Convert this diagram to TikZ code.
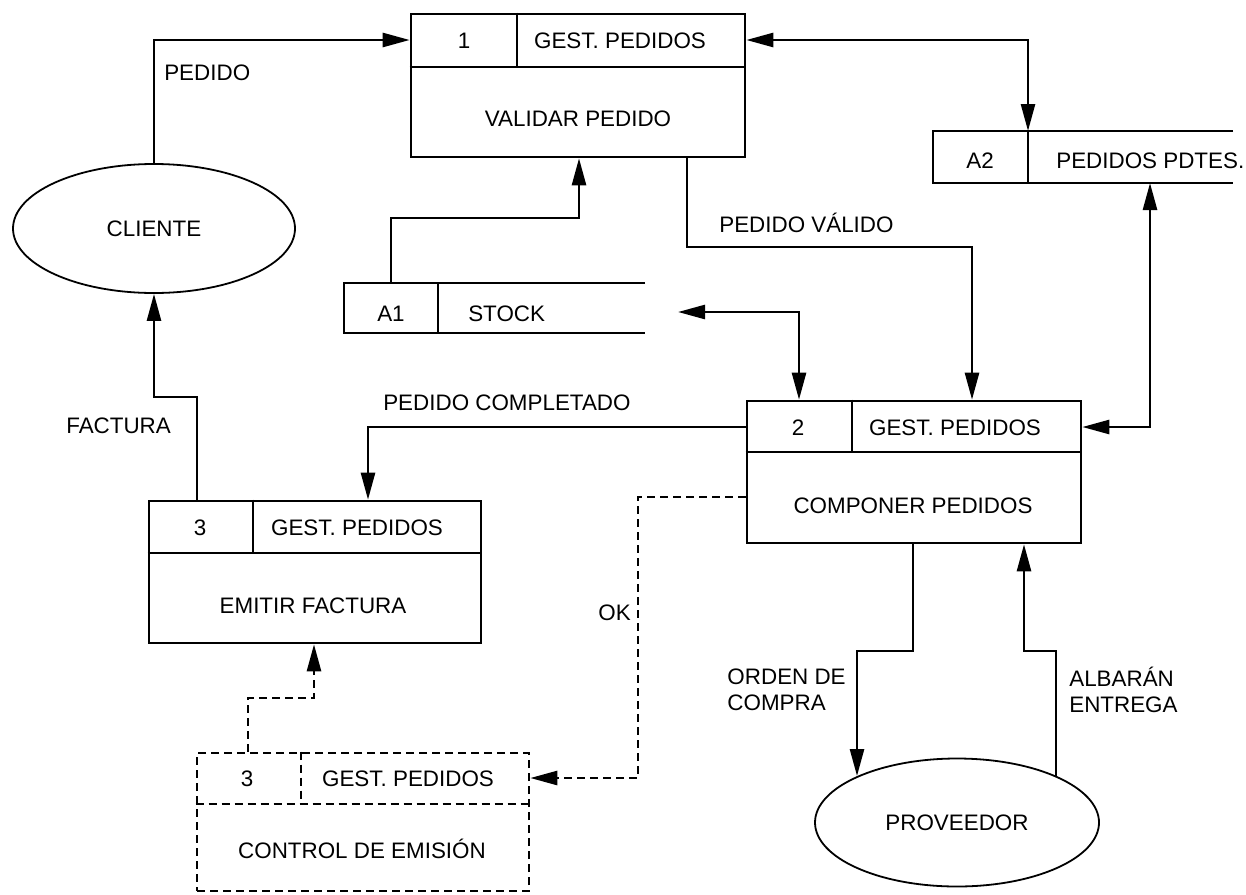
\documentclass[tikz,border=0pt]{standalone}
\usepackage{fontspec}
\setmainfont{Liberation Sans}
\usetikzlibrary{arrows.meta,shapes.geometric}

\begin{document}
\begin{tikzpicture}[x=0.5pt,y=-0.5pt,
  line width=1.3pt,
  every node/.style={font=\fontsize{11.2}{13}\selectfont},
  txt/.style={inner sep=0pt, text height=8pt, text depth=0pt},
  lbl/.style={inner sep=0pt, align=left},
  proc/.style={draw, rectangle, inner sep=0pt},
  ext/.style={draw, ellipse, inner sep=0pt, line width=0.9pt},
  store/.style={inner sep=0pt, outer sep=0pt},
  dsh/.style={dash pattern=on 4pt off 2.5pt},
  flow/.style={-{Triangle[length=13.5pt,width=7pt]}},
  both/.style={{Triangle[length=13.5pt,width=7pt]}-{Triangle[length=13.5pt,width=7pt]}}]

\useasboundingbox (0,0) rectangle (1246,894);

% external entities
\node[ext, minimum width=141pt, minimum height=64.5pt] (cliente) at (154,228.5) {CLIENTE};
\node[ext, minimum width=142pt, minimum height=64pt] (prov) at (957,822.5) {PROVEEDOR};

% process 1
\node[proc, minimum width=167pt, minimum height=71.5pt] (p1) at (578,85.5) {};
\draw (p1.west |- 0,67) -- (p1.east |- 0,67);
\draw (p1.north -| 517,0) -- (517,67);
\node[txt] (p1n) at (464,40) {1};
\node[txt] (p1g) at (620,40) {GEST. PEDIDOS};
\node[txt] (p1t) at (578,118) {VALIDAR PEDIDO};

% process 2
\node[proc, minimum width=167pt, minimum height=71pt] (p2) at (914,472) {};
\draw (p2.west |- 0,452) -- (p2.east |- 0,452);
\draw (p2.north -| 852,0) -- (852,452);
\node[txt] (p2n) at (798,427) {2};
\node[txt] (p2g) at (955,427) {GEST. PEDIDOS};
\node[txt] (p2t) at (913,505) {COMPONER PEDIDOS};

% process 3
\node[proc, minimum width=166pt, minimum height=71pt] (p3) at (315,572) {};
\draw (p3.west |- 0,553) -- (p3.east |- 0,553);
\draw (p3.north -| 253,0) -- (253,553);
\node[txt] (p3n) at (200,527) {3};
\node[txt] (p3g) at (357,527) {GEST. PEDIDOS};
\node[txt] (p3t) at (313,605) {EMITIR FACTURA};

% control process (dashed)
\node[proc, dsh, minimum width=166pt, minimum height=69pt] (p4) at (363,822) {};
\draw[dsh] (p4.west |- 0,804) -- (p4.east |- 0,804);
\draw[dsh] (p4.north -| 301,0) -- (301,804);
\node[txt] (p4n) at (247,778) {3};
\node[txt] (p4g) at (408,778) {GEST. PEDIDOS};
\node[txt] (p4t) at (362,850) {CONTROL DE EMISIÓN};

% data stores
\node[store, minimum width=150.5pt, minimum height=25pt] (a1) at (494.5,308) {};
\draw (a1.north east) -- (a1.north west) -- (a1.south west) -- (a1.south east);
\draw (a1.north -| 438,0) -- (a1.south -| 438,0);
\node[txt] (a1n) at (391,313) {A1};
\node[txt, anchor=west] (a1t) at (467,313) {STOCK};

\node[store, minimum width=150pt, minimum height=26pt] (a2) at (1083,157) {};
\draw (a2.north east) -- (a2.north west) -- (a2.south west) -- (a2.south east);
\draw (a2.north -| 1028,0) -- (a2.south -| 1028,0);
\node[txt] (a2n) at (980,160) {A2};
\node[txt, anchor=west] (a2t) at (1055,160) {PEDIDOS PDTES.};

% data flows
\coordinate (stockend) at (678,312);

\draw[flow] (cliente.north) |- (p1.west |- 0,40);
\draw[both] (p1.east |- 0,40) -| (a2.north -| 1028,0);
\draw[flow] (a1.north -| 391,0) -- (391,218) -| (p1.south -| 579,0);
\draw[flow] (p1.south -| 687,0) -- (687,247) -| (p2.north -| 972,0);
\draw[both] (stockend) -| (p2.north -| 799,0);
\draw[both] (a2.south -| 1150,0) |- (p2.east |- 0,427);
\draw[flow] (p2.west |- 0,427) -| (p3.north -| 368,0);
\draw[flow] (p3.north -| 197,0) -- (197,397) -| (cliente.south);
\draw[flow,dsh] (p2.west |- 0,497) -| (638,778) -- (p4.east |- 0,778);
\draw[flow,dsh] (p4.north -| 248,0) -- (248,698) -| (p3.south -| 314,0);
\draw[flow] (p2.south -| 913,0) -- (913,651) -| (prov.155.6 -| 857,0);
\draw[flow] (prov.24.9 -| 1056,0) -- (1056,651) -| (p2.south -| 1024,0);

% flow labels
\node[txt, anchor=west] (lpedido) at (163,72) {PEDIDO};
\node[txt, anchor=west] (lvalido) at (718,224) {PEDIDO VÁLIDO};
\node[txt, anchor=west] (lcompl) at (382,402) {PEDIDO COMPLETADO};
\node[txt, anchor=west] (lfact) at (65,425) {FACTURA};
\node[txt, anchor=east] (lok) at (632,612) {OK};
\node[lbl, anchor=east] (lorden) at (847,690) {ORDEN DE\\COMPRA};
\node[lbl, anchor=west] (lalb) at (1068,690) {ALBARÁN\\ENTREGA};

\end{tikzpicture}
\end{document}
